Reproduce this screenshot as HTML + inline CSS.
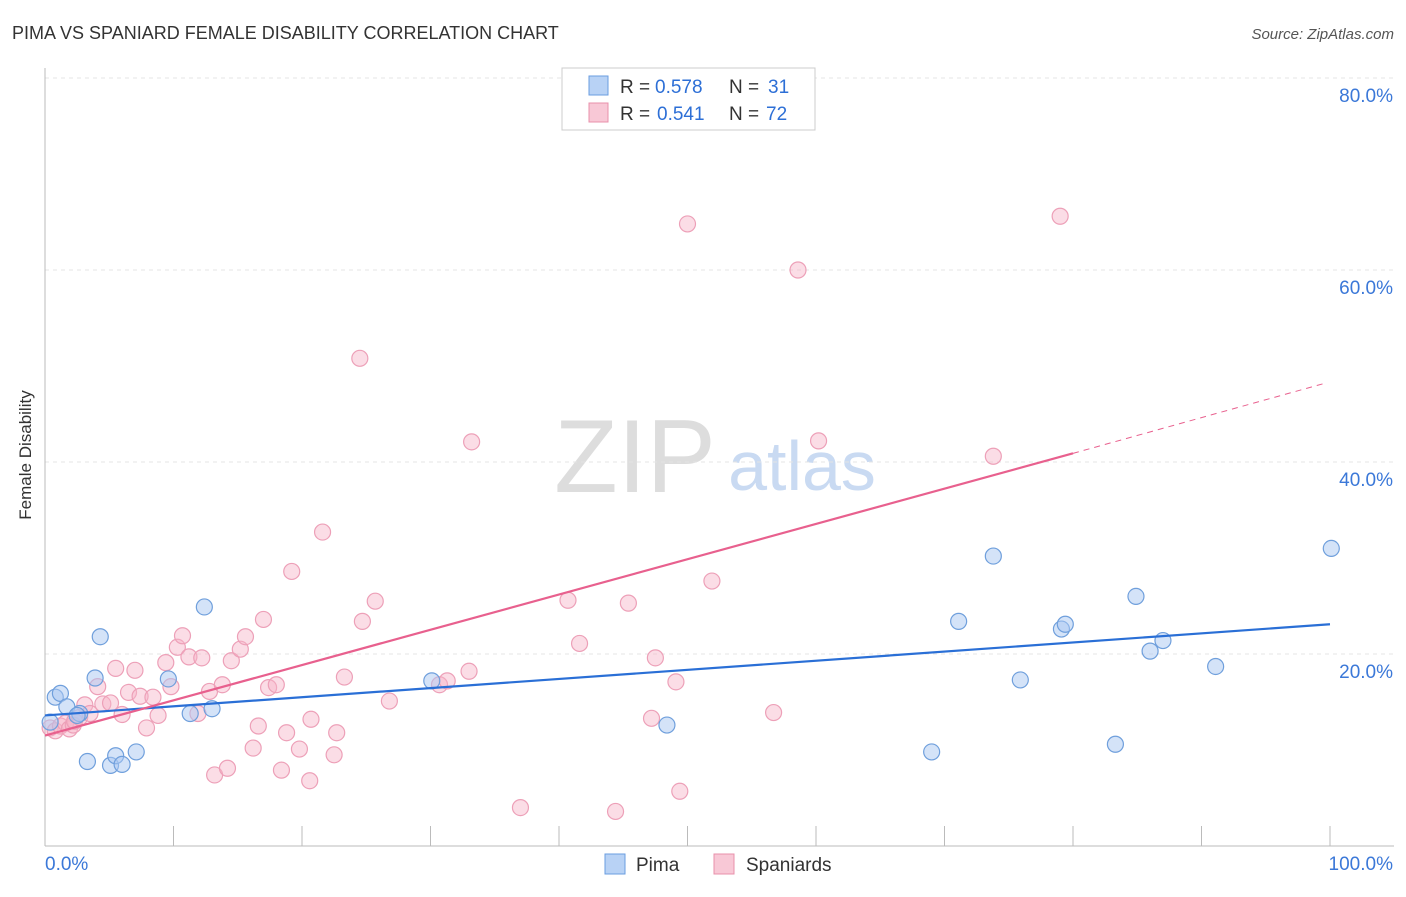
<!DOCTYPE html>
<html><head><meta charset="utf-8"><style>
body{margin:0;background:#fff;font-family:"Liberation Sans",sans-serif;}
svg text{font-family:"Liberation Sans",sans-serif;}
</style></head><body>
<svg id="chart" width="1406" height="892">
<text x="12" y="39" font-size="18" fill="#333">PIMA VS SPANIARD FEMALE DISABILITY CORRELATION CHART</text>
<text x="1394" y="39" font-size="15" fill="#555" font-style="italic" text-anchor="end">Source: ZipAtlas.com</text>
<text x="31" y="455" font-size="17" fill="#333" transform="rotate(-90 31 455)" text-anchor="middle">Female Disability</text>
<text x="635" y="492" font-size="104" fill="#ddd" font-family="Liberation Serif" text-anchor="middle">ZIP</text>
<text x="802" y="490" font-size="70" fill="#c9daf2" text-anchor="middle">atlas</text>
<g id="grid"></g><g id="marks"></g>
<g>
<rect x="562" y="68" width="253" height="62" fill="#fff" stroke="#ccc"/>
<rect x="589" y="76" width="19" height="19" fill="#b8d2f5" stroke="#6a9de0"/>
<rect x="589" y="103" width="19" height="19" fill="#f8c8d6" stroke="#e890ab"/>
<text x="620" y="93" font-size="19" fill="#333">R =</text>
<text x="655" y="93" font-size="19" fill="#2d6fd6">0.578</text>
<text x="729" y="93" font-size="19" fill="#333">N =</text>
<text x="768" y="93" font-size="19" fill="#2d6fd6">31</text>
<text x="620" y="120" font-size="19" fill="#333">R =</text>
<text x="657" y="120" font-size="19" fill="#2d6fd6">0.541</text>
<text x="729" y="120" font-size="19" fill="#333">N =</text>
<text x="766" y="120" font-size="19" fill="#2d6fd6">72</text>
</g>
<g>
<rect x="605" y="854" width="20" height="20" fill="#b8d2f5" stroke="#6a9de0"/>
<text x="636" y="871" font-size="19" fill="#333">Pima</text>
<rect x="714" y="854" width="20" height="20" fill="#f8c8d6" stroke="#e890ab"/>
<text x="746" y="871" font-size="19" fill="#333">Spaniards</text>
</g>
</svg>
<script>
const yTicks=[20,40,60,80];
const xTickLabels=["0.0%","100.0%"];
const pimaX=[0.8,1.2,0.4,1.7,2.7,2.5,3.3,3.9,4.3,5.1,5.5,6.0,7.1,9.6,11.3,12.4,13.0,30.1,48.4,69.0,71.1,73.8,75.9,79.1,79.4,83.3,84.9,86.0,87.0,91.1,100.1];
const pimaY=[15.5,15.9,12.9,14.5,13.8,13.6,8.8,17.5,21.8,8.4,9.4,8.5,9.8,17.4,13.8,24.9,14.3,17.2,12.6,9.8,23.4,30.2,17.3,22.6,23.1,10.6,26.0,20.3,21.4,18.7,31.0];
const spX=[0.4,0.8,1.2,1.6,1.9,2.2,2.3,2.7,3.1,3.5,4.1,4.5,5.1,5.5,6.0,6.5,7.0,7.4,7.9,8.4,8.8,9.4,9.8,10.3,10.7,11.2,11.9,12.2,12.8,13.2,13.8,14.2,14.5,15.2,15.6,16.2,16.6,17.0,17.4,18.0,18.4,18.8,19.2,19.8,20.6,20.7,21.6,22.5,22.7,23.3,24.5,24.7,25.7,26.8,30.7,31.3,33.0,33.2,37.0,40.7,41.6,44.4,45.4,47.2,47.5,49.1,49.4,50.0,51.9,56.7,58.6,60.2,73.8,79.0];
const spY=[12.3,12.0,12.5,12.8,12.2,12.6,13.0,13.4,14.7,13.8,16.6,14.8,14.9,18.5,13.7,16.0,18.3,15.6,12.3,15.5,13.6,19.1,16.6,20.7,21.9,19.7,13.8,19.6,16.1,7.4,16.8,8.1,19.3,20.5,21.8,10.2,12.5,23.6,16.5,16.8,7.9,11.8,28.6,10.1,6.8,13.2,32.7,9.5,11.8,17.6,50.8,23.4,25.5,15.1,16.8,17.2,18.2,42.1,4.0,25.6,21.1,3.6,25.3,13.3,19.6,17.1,5.7,64.8,27.6,13.9,60.0,42.2,40.6,65.6];
const X=v=>45+v*12.85, Y=v=>846-v*9.6;
const NS="http://www.w3.org/2000/svg";
const grid=document.getElementById('grid'), marks=document.getElementById('marks');
function mk(tag,attrs,parent){const e=document.createElementNS(NS,tag);for(const k in attrs)e.setAttribute(k,attrs[k]);parent.appendChild(e);return e;}
yTicks.forEach(t=>{
 const l=mk('line',{x1:45,x2:1394,y1:Y(t),y2:Y(t),stroke:'#e4e4e4','stroke-dasharray':'4 4'},grid);
 
 
 const tx=mk('text',{x:1393,y:Y(t)+24,'font-size':19,fill:'#3b78d8','text-anchor':'end'},grid);
 tx.textContent=t.toFixed(1)+'%';
 
 
});
mk('line',{x1:45,x2:45,y1:68,y2:846,stroke:'#bbb'},grid);
mk('line',{x1:45,x2:1394,y1:846,y2:846,stroke:'#bbb'},grid);
for(let i=0;i<=10;i++){mk('line',{x1:X(i*10),x2:X(i*10),y1:826,y2:846,stroke:'#bbb'},grid);}
const xl0=mk('text',{x:45,y:870,'font-size':19,fill:'#3b78d8'},grid);xl0.textContent=xTickLabels[0];


const xl1=mk('text',{x:1393,y:870,'font-size':19,fill:'#3b78d8','text-anchor':'end'},grid);xl1.textContent=xTickLabels[1];


spX.forEach((v,i)=>{const c=mk('circle',{cx:X(v),cy:Y(spY[i]),r:8,fill:'rgba(246,180,200,0.45)',stroke:'#eda0b8','stroke-width':1.2},marks);
 
 });
pimaX.forEach((v,i)=>{const c=mk('circle',{cx:X(v),cy:Y(pimaY[i]),r:8,fill:'rgba(170,200,242,0.5)',stroke:'#6f9fdc','stroke-width':1.2},marks);
 
 });
const bl=mk('line',{x1:X(0),y1:Y(13.6),x2:X(100),y2:Y(23.1),stroke:'#2a6fd6','stroke-width':2.2},marks);


const pl=mk('line',{x1:X(0),y1:Y(11.5),x2:X(80),y2:Y(40.9),stroke:'#e8608e','stroke-width':2.2},marks);


const pd=mk('line',{x1:X(80),y1:Y(40.9),x2:X(99.6),y2:Y(48.2),stroke:'#e8608e','stroke-width':1,'stroke-dasharray':'6 5'},marks);


</script>
</body></html>
